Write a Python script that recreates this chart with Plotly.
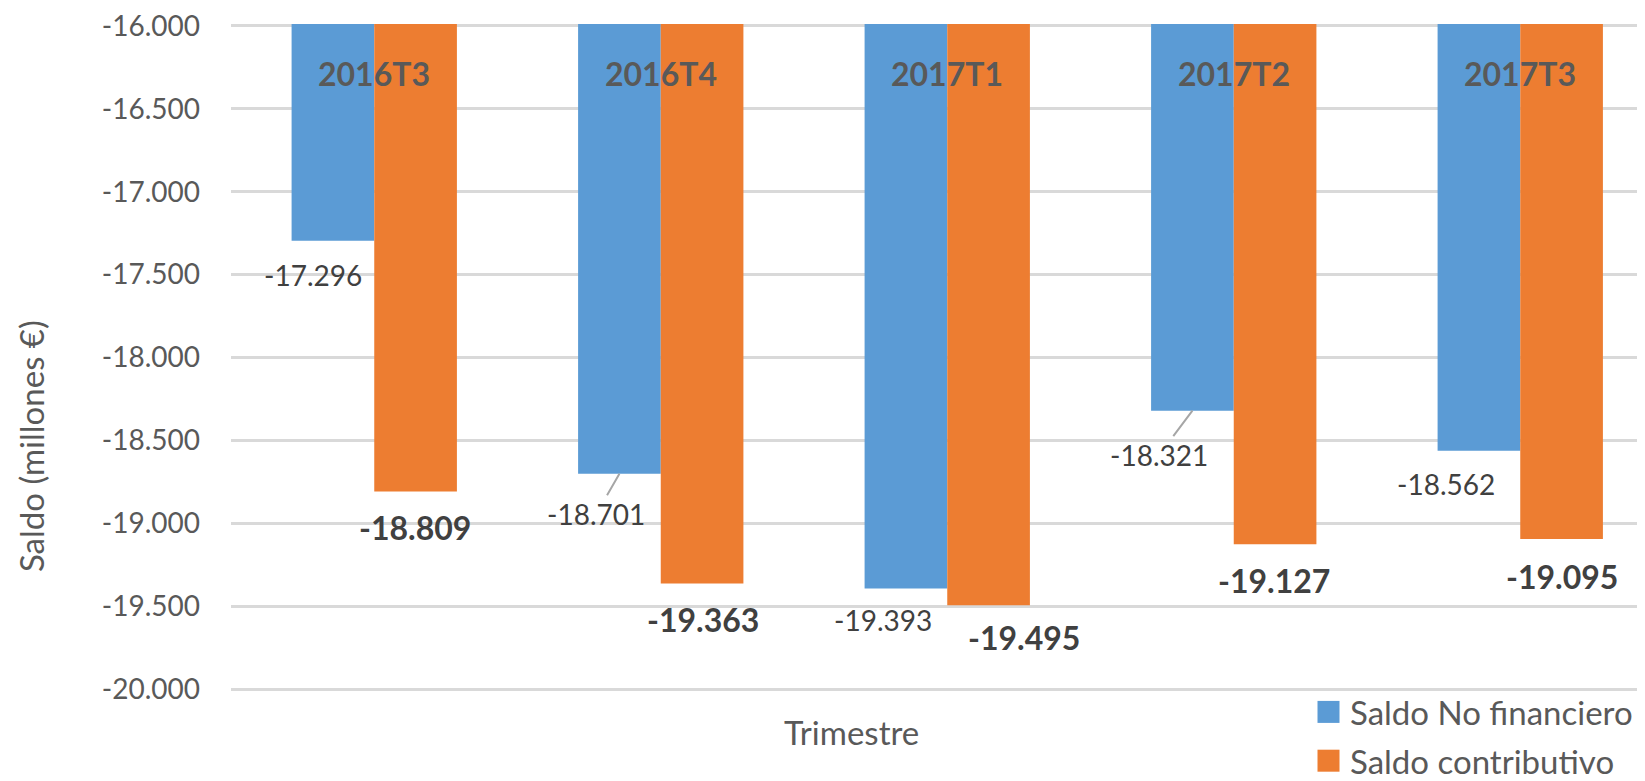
import plotly.graph_objects as go

# ---------------- data ----------------
categories = ["2016T3", "2016T4", "2017T1", "2017T2", "2017T3"]
series_names = ["Saldo No financiero", "Saldo contributivo"]
saldo_no_financiero = [-17296, -18701, -19393, -18321, -18562]
saldo_contributivo = [-18809, -19363, -19495, -19127, -19095]
y_tick_values = [-16000, -16500, -17000, -17500, -18000, -18500, -19000, -19500, -20000]
y_axis_title = "Saldo (millones €)"
x_axis_title = "Trimestre"

# ---------------- style ----------------
PAGE_OFF = 8                      # default body margin of the html page
W, H = 1645 - PAGE_OFF, 781 - PAGE_OFF
PLOT_L, PLOT_T, PLOT_B = 231, 21, 691   # plot edges in page pixels
ML, MR = PLOT_L - PAGE_OFF, 0
MT, MB = PLOT_T - PAGE_OFF, H - (PLOT_B - PAGE_OFF)
PLOT_W = W - ML - MR
PLOT_H = H - MT - MB
Y_RANGE = [-20012, -15988]
BLUE = "#5B9BD5"
ORANGE = "#ED7D31"
GRID = "#D9D9D9"
TXT = "#595959"
LBL = "#404040"
FONT = "Lato, 'Open Sans', sans-serif"
BARGAP = 0.423
CAT_PX = 286.5
# label offsets from the bar end (pixels): dx, dy (downwards)
blue_label_off = [(-20, 34), (-23, 40), (-23, 32), (-33, 44), (-33, 33)]
orange_label_off = [(-1, 36), (1, 36), (35, 32), (-1, 36), (0, 37)]
blue_leader = [False, True, False, True, False]


def fmt(v):
    s = f"{abs(v):,}".replace(",", ".")
    return ("-" if v < 0 else "") + s


def px(x):
    return (x - PLOT_L) / PLOT_W


def py(y):
    return (PLOT_B - y) / PLOT_H


fig = go.Figure()
fig.add_trace(go.Bar(x=categories, y=saldo_no_financiero, name=series_names[0],
                     marker=dict(color=BLUE, line=dict(width=0))))
fig.add_trace(go.Bar(x=categories, y=saldo_contributivo, name=series_names[1],
                     marker=dict(color=ORANGE, line=dict(width=0))))

half = (1 - BARGAP) / 4  # offset of each bar centre from category centre
annotations = []
for k, v in enumerate(saldo_no_financiero):
    dx, dy = blue_label_off[k]
    a = dict(x=k - half, y=v, xref="x", yref="y", text=fmt(v),
             font=dict(family=FONT, size=28, color=LBL))
    if blue_leader[k]:
        a.update(showarrow=True, ax=dx, ay=dy, arrowhead=0, arrowwidth=2,
                 arrowcolor="#A6A6A6", standoff=0, startstandoff=0)
    else:
        a.update(showarrow=False, xshift=dx, yshift=-dy)
    annotations.append(a)
for k, v in enumerate(saldo_contributivo):
    dx, dy = orange_label_off[k]
    annotations.append(dict(x=k + half, y=v, xref="x", yref="y", text="<b>" + fmt(v) + "</b>",
                            showarrow=False, xshift=dx, yshift=-dy,
                            font=dict(family=FONT, size=32, color=LBL)))

# category labels inside the top of the plot
for k, c in enumerate(categories):
    annotations.append(dict(x=k, y=py(71), xref="x", yref="paper", text="<b>" + c + "</b>",
                            showarrow=False, yanchor="middle", xanchor="center",
                            font=dict(family=FONT, size=32, color=TXT)))

# axis titles
annotations.append(dict(text=y_axis_title, xref="paper", yref="paper", x=px(31), y=py(445),
                        xanchor="center", yanchor="middle", textangle=-90, showarrow=False,
                        font=dict(family=FONT, size=33, color=TXT)))
annotations.append(dict(text=x_axis_title, xref="paper", yref="paper", x=px(851), y=py(732),
                        xanchor="center", yanchor="middle", showarrow=False,
                        font=dict(family=FONT, size=33, color=TXT)))

# legend (manual, large swatches)
shapes = []
leg_rows = [712, 761]
for name, col, yc in zip(series_names, [BLUE, ORANGE], leg_rows):
    shapes.append(dict(type="rect", xref="paper", yref="paper",
                       xsizemode="pixel", ysizemode="pixel",
                       xanchor=px(1328.5), yanchor=py(yc),
                       x0=-11, x1=11, y0=-11, y1=11,
                       fillcolor=col, line=dict(width=0)))
    annotations.append(dict(text=name, xref="paper", yref="paper", x=px(1348), y=py(yc),
                            xanchor="left", yanchor="middle", showarrow=False,
                            font=dict(family=FONT, size=33, color=TXT)))

fig.update_layout(
    width=W, height=H,
    margin=dict(l=ML, r=MR, t=MT, b=MB, pad=0),
    paper_bgcolor="white", plot_bgcolor="white",
    barmode="group", bargap=BARGAP, bargroupgap=0,
    showlegend=False,
    annotations=annotations, shapes=shapes,
    xaxis=dict(type="category", range=[-0.5, -0.5 + PLOT_W / CAT_PX],
               showticklabels=False, ticks="",
               showgrid=False, zeroline=False, showline=False),
    yaxis=dict(range=Y_RANGE, tickvals=y_tick_values,
               ticktext=[fmt(v) for v in y_tick_values],
               showgrid=True, gridcolor=GRID, gridwidth=3, zeroline=False, showline=False,
               ticks="", ticklabelstandoff=30, ticklabeloverflow="allow",
               tickfont=dict(family=FONT, size=28, color=TXT)),
)

fig.write_html("out.html")
